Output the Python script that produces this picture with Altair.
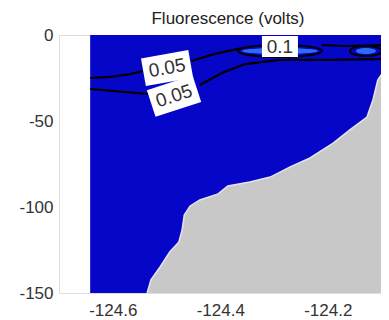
import altair as alt
import pandas as pd

# ---------------- data ----------------
x_ticks = [-124.6, -124.4, -124.2]
y_ticks = [0, -50, -100, -150]

# extent of the sampled (blue) section
section_lon = [-124.642, -124.086]
section_depth = [0, -150]

# seafloor (bathymetry) boundary
bathy_lon = [-124.536, -124.529, -124.512, -124.494, -124.477, -124.471, -124.467,
             -124.456, -124.438, -124.404, -124.386, -124.345, -124.307, -124.270,
             -124.233, -124.190, -124.159, -124.127, -124.116, -124.107, -124.097, -124.086]
bathy_depth = [-150.0, -142.4, -134.9, -126.2, -120.3, -113.4, -104.7,
               -99.4, -95.9, -92.4, -87.8, -85.5, -82.6, -76.7,
               -71.5, -62.8, -55.2, -47.7, -37.8, -26.2, -21.5, -19.2]

# contour lines (0.05 V)
lineA_left_lon = [-124.642, -124.605, -124.568, -124.544]
lineA_left_depth = [-25.0, -24.4, -22.7, -20.9]
lineA_right_lon = [-124.454, -124.410, -124.367, -124.330]
lineA_right_depth = [-15.1, -11.0, -8.1, -7.0]
lineA_far_lon = [-124.211, -124.168, -124.086]
lineA_far_depth = [-5.8, -6.4, -5.8]
lineB_left_lon = [-124.642, -124.596, -124.534]
lineB_left_depth = [-31.4, -32.6, -34.3]
lineB_right_lon = [-124.438, -124.397, -124.354, -124.289, -124.196, -124.086]
lineB_right_depth = [-29.1, -22.1, -16.9, -14.5, -14.5, -14.0]

# 0.1 V closed contours (centres)
loop_lon = [-124.289, -124.129]
loop_depth = [-9.3, -9.3]

# contour labels
label_text = ["0.05", "0.05", "0.1"]
label_lon = [-124.499, -124.486, -124.289]
label_depth = [-19.2, -35.5, -6.7]
label_angle = [350, 342, 0]

# ---------------- tables ----------------
segments = [
    ("A1", lineA_left_lon, lineA_left_depth),
    ("A2", lineA_right_lon, lineA_right_depth),
    ("A3", lineA_far_lon, lineA_far_depth),
    ("B1", lineB_left_lon, lineB_left_depth),
    ("B2", lineB_right_lon, lineB_right_depth),
]
rows = []
for seg, lons, deps in segments:
    for i, (lo, de) in enumerate(zip(lons, deps)):
        rows.append({"seg": seg, "i": i, "lon": lo, "depth": de})
lines_df = pd.DataFrame(rows)

bathy_df = pd.DataFrame({"lon": bathy_lon, "depth": bathy_depth})
section_df = pd.DataFrame({"lon": [section_lon[0]], "lon2": [section_lon[1]],
                           "depth": [section_depth[0]], "d2": [section_depth[1]]})
loop_df = pd.DataFrame({"lon": loop_lon, "depth": loop_depth})
label_df = pd.DataFrame({"text": label_text, "lon": label_lon, "depth": label_depth})

X_DOM = [-124.7, -124.101]
Y_DOM = [-150, 0]
FONT = "Liberation Sans"

xs = alt.Scale(domain=X_DOM, nice=False, zero=False)
ys = alt.Scale(domain=Y_DOM, nice=False, zero=False)

x_axis = alt.Axis(values=x_ticks, labelExpr="toString(datum.value)", title=None,
                  grid=False, domain=False, ticks=False, labelPadding=9,
                  labelFontSize=17, labelFont=FONT, labelColor="#333333")
y_axis = alt.Axis(values=y_ticks, labelExpr="toString(datum.value)", title=None,
                  grid=False, domain=False, ticks=False, labelPadding=6,
                  labelFontSize=17, labelFont=FONT, labelColor="#333333")


def X():
    return alt.X("lon:Q", scale=xs, axis=x_axis)


def Y():
    return alt.Y("depth:Q", scale=ys, axis=y_axis)


blue = alt.Chart(section_df).mark_rect(color="#0606c8").encode(
    x=X(), x2="lon2:Q", y=Y(), y2="d2:Q")

gray = alt.Chart(bathy_df).mark_area(color="#c8c8c8", clip=True).encode(
    x=X(), y=Y(), y2=alt.datum(-150))
edge = alt.Chart(bathy_df).mark_line(color="#e4e4f2", strokeWidth=1.5, clip=True).encode(
    x=X(), y=Y())

contours = alt.Chart(lines_df).mark_line(color="#000000", strokeWidth=2.2, clip=True).encode(
    x=X(), y=Y(), detail="seg:N", order="i:Q")


def ellipse(k):
    c = 0.552
    return (f"M -1 0 C -1 {-c*k} {-c} {-k} 0 {-k} C {c} {-k} 1 {-c*k} 1 0 "
            f"C 1 {c*k} {c} {k} 0 {k} C {-c} {k} -1 {c*k} -1 0 Z")


loop_layers = []
shapes = [(0, 84, 12 / 84, 76), (1, 32, 10 / 32, 20)]
for idx, w, k, wc in shapes:
    d = loop_df.iloc[[idx]]
    loop_layers.append(alt.Chart(d).mark_point(
        shape=ellipse(k), size=w * w, filled=True, fill="#0606c8",
        stroke="#000000", strokeWidth=2.2, opacity=1, clip=True).encode(x=X(), y=Y()))
    loop_layers.append(alt.Chart(d).mark_point(
        shape=ellipse(6 / wc), size=wc * wc, filled=True, fill="#2f6cf5",
        strokeWidth=0, opacity=1, clip=True).encode(x=X(), y=Y()))

label_layers = []
box_sizes = [(48, 28), (48, 28), (36, 21)]
for j in range(len(label_text)):
    d = label_df.iloc[[j]]
    bw, bh = box_sizes[j]
    k = bh / bw
    label_layers.append(alt.Chart(d).mark_point(
        shape=f"M -1 {-k} L 1 {-k} L 1 {k} L -1 {k} Z", size=bw * bw,
        filled=True, fill="#ffffff", strokeWidth=0, opacity=1,
        angle=label_angle[j]).encode(x=X(), y=Y()))
    label_layers.append(alt.Chart(d).mark_text(
        font=FONT, fontSize=19, color="#333333", angle=label_angle[j],
        align="center", baseline="middle").encode(x=X(), y=Y(), text="text:N"))

chart = alt.layer(blue, gray, edge, contours, *loop_layers, *label_layers).properties(
    width=322, height=258,
    title=alt.TitleParams("Fluorescence (volts)", font=FONT, fontSize=17,
                          fontWeight="normal", color="#222222", offset=-2, dx=8),
    autosize=alt.AutoSizeParams(type="none"),
    padding={"left": 51, "top": 27, "right": 0, "bottom": 25},
).configure_view(stroke="#a0a0a0", strokeWidth=1).configure(background="#ffffff")

chart.save("out.html", embed_options={"renderer": "svg", "actions": False})
